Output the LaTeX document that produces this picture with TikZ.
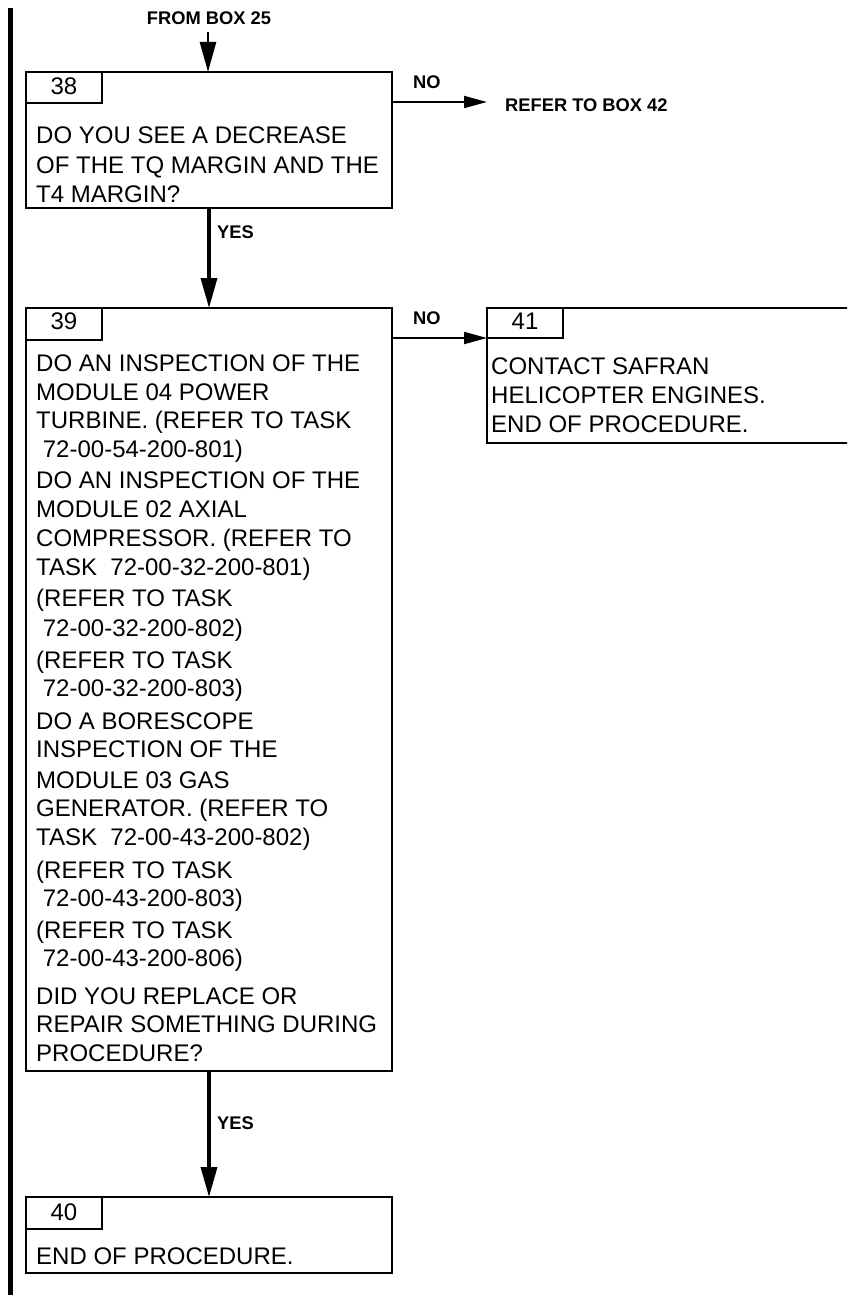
\documentclass[tikz,border=0pt]{standalone}
\usepackage{fontspec}
\setmainfont{Liberation Sans}
\usetikzlibrary{arrows.meta}
\tikzset{
  box/.style={draw, line width=2.2pt, anchor=north west, inner sep=0pt, outer sep=0pt},
  txt/.style={anchor=base west, inner sep=0pt, font=\fontsize{24pt}{28pt}\selectfont},
  num/.style={anchor=base, inner sep=0pt, font=\fontsize{24pt}{28pt}\selectfont},
  lbl/.style={anchor=base west, inner sep=0pt, font=\fontsize{18.3pt}{22pt}\selectfont\bfseries},
  vflow/.style={line width=3.5pt, -{Triangle[length=30pt,width=16pt]}},
  hflow/.style={line width=2pt, -{Triangle[length=23pt,width=12pt]}},
}
\newcommand{\ld}{\hspace*{6.7pt}}
\begin{document}
\begin{tikzpicture}[x=1pt,y=-1pt]
\useasboundingbox (0,0) rectangle (847,1295);
\clip (0,0) rectangle (847,1295);
% left change bar
\draw[line width=5pt] (10,8) -- (10,1295);

% boxes
\node[box, minimum width=366pt, minimum height=136pt] (b38) at (26,72) {};
\node[box, minimum width=76pt, minimum height=31pt] (l38) at (26,72) {};
\node[box, minimum width=366pt, minimum height=763pt] (b39) at (26,308) {};
\node[box, minimum width=76pt, minimum height=32pt] (l39) at (26,308) {};
\node[box, minimum width=380pt, minimum height=135pt] (b41) at (487,308) {};
\node[box, minimum width=76pt, minimum height=30pt] (l41) at (487,308) {};
\node[box, minimum width=366pt, minimum height=76pt] (b40) at (26,1197) {};
\node[box, minimum width=76pt, minimum height=32pt] (l40) at (26,1197) {};

% numbers
\node[num] (n38) at (64,95) {38};
\node[num] (n39) at (64,329.5) {39};
\node[num] (n41) at (525,329.5) {41};
\node[num] (n40) at (64,1220.5) {40};

% connectors
\coordinate (src) at (208,32);
\coordinate (r42) at (487,102);
\draw[vflow, line width=2.5pt] (src) -- (src |- b38.north);
\draw[vflow] (b38.south) -- (b39.north);
\draw[vflow] (b39.south) -- (b40.north);
\draw[hflow] (b38.east |- r42) -- (r42);
\draw[hflow] (b39.east |- l41.south west) -- (l41.south west);

% bold labels
\node[lbl, anchor=base] (from25) at (209,24.5) {FROM BOX 25};
\node[lbl] (no1) at (413,88.3) {NO};
\node[lbl] (ref42) at (505,111.5) {REFER TO BOX 42};
\node[lbl] (yes1) at (217,238.3) {YES};
\node[lbl] (no2) at (413,324) {NO};
\node[lbl] (yes2) at (217,1129) {YES};

% box 38 text
\node[txt] (a1) at (36,143) {DO YOU SEE A DECREASE};
\node[txt] (a2) at (36,173) {OF THE TQ MARGIN AND THE};
\node[txt] (a3) at (36,202.5) {T4 MARGIN?};

% box 39 text
\node[txt] (t01) at (36,371.5) {DO AN INSPECTION OF THE};
\node[txt] (t02) at (36,400) {MODULE 04 POWER};
\node[txt] (t03) at (36,428.5) {TURBINE. (REFER TO TASK};
\node[txt] (t04) at (36,457) {\ld 72-00-54-200-801)};
\node[txt] (t05) at (36,488) {DO AN INSPECTION OF THE};
\node[txt] (t06) at (36,517) {MODULE 02 AXIAL};
\node[txt] (t07) at (36,546) {COMPRESSOR. (REFER TO};
\node[txt] (t08) at (36,575) {TASK\ \ 72-00-32-200-801)};
\node[txt] (t09) at (36,606.5) {(REFER TO TASK};
\node[txt] (t10) at (36,636) {\ld 72-00-32-200-802)};
\node[txt] (t11) at (36,668) {(REFER TO TASK};
\node[txt] (t12) at (36,696.5) {\ld 72-00-32-200-803)};
\node[txt] (t13) at (36,729.5) {DO A BORESCOPE};
\node[txt] (t14) at (36,757.5) {INSPECTION OF THE};
\node[txt] (t15) at (36,788) {MODULE 03 GAS};
\node[txt] (t16) at (36,816.5) {GENERATOR. (REFER TO};
\node[txt] (t17) at (36,845) {TASK\ \ 72-00-43-200-802)};
\node[txt] (t18) at (36,878) {(REFER TO TASK};
\node[txt] (t19) at (36,906.5) {\ld 72-00-43-200-803)};
\node[txt] (t20) at (36,938) {(REFER TO TASK};
\node[txt] (t21) at (36,966.5) {\ld 72-00-43-200-806)};
\node[txt] (t22) at (36,1004) {DID YOU REPLACE OR};
\node[txt] (t23) at (36,1032.5) {REPAIR SOMETHING DURING};
\node[txt] (t24) at (36,1061) {PROCEDURE?};

% box 41 text
\node[txt] (c1) at (491,374) {CONTACT SAFRAN};
\node[txt] (c2) at (491,403.5) {HELICOPTER ENGINES.};
\node[txt] (c3) at (491,432.5) {END OF PROCEDURE.};

% box 40 text
\node[txt] (e1) at (36,1264) {END OF PROCEDURE.};
\end{tikzpicture}
\end{document}
